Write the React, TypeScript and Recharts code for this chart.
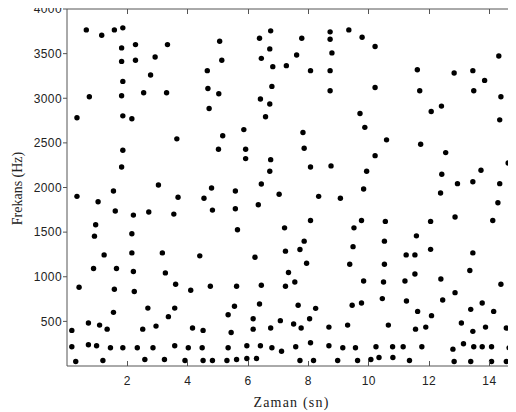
import React from 'react';
import { ScatterChart, Scatter, XAxis, YAxis, ReferenceLine } from 'recharts';

// Zaman (sn) değerleri
const zaman = [
  0.64, 1.15, 1.57, 1.85, 1.81, 2.27, 3.33, 1.81, 2.27, 2.92, 2.77, 4.65, 1.85, 0.74, 1.81, 2.54, 3.30, 4.67, 0.33, 1.85,
  2.15, 4.71, 5.06, 5.13, 5.03, 6.38, 6.75, 6.72, 6.44, 6.82, 7.27, 7.61, 7.78, 8.07, 6.79, 6.41, 6.72, 6.58, 5.86, 8.72,
  8.72, 9.34, 8.78, 8.72, 8.72, 9.71, 9.78, 10.21, 10.21, 9.87, 11.61, 11.69, 12.07, 12.41, 12.83, 13.45, 13.84, 13.48, 14.31, 14.78,
  14.82, 14.38, 14.34, 0.33, 1.03, 0.95, 0.91, 1.85, 1.81, 1.54, 1.60, 2.20, 2.15, 2.71, 3.03, 3.64, 3.68, 3.54, 4.54, 5.16,
  5.02, 5.92, 5.92, 6.75, 6.72, 6.44, 4.79, 5.58, 7.03, 6.34, 4.82, 5.58, 5.65, 7.21, 7.82, 7.86, 8.07, 8.75, 8.34, 9.06,
  8.07, 7.86, 7.72, 7.24, 9.51, 9.48, 10.59, 10.21, 9.93, 9.83, 9.76, 10.55, 10.52, 11.72, 12.55, 12.42, 12.94, 13.45, 13.72, 12.38,
  12.05, 11.58, 12.05, 12.86, 14.11, 14.28, 14.34, 14.62, 14.84, 14.86, 14.82, 14.78, 0.16, 0.16, 0.29, 0.40, 0.71, 0.71, 0.88, 1.08,
  0.98, 1.19, 1.23, 1.33, 1.44, 1.54, 1.57, 1.64, 1.85, 2.15, 2.20, 2.23, 2.33, 2.51, 2.58, 2.68, 2.85, 2.95, 3.16, 3.26,
  3.23, 3.36, 3.57, 3.60, 3.57, 3.91, 4.02, 4.10, 4.16, 4.40, 4.48, 4.51, 4.51, 4.75, 4.82, 5.30, 5.62, 5.96, 6.28, 5.34,
  5.96, 6.41, 6.79, 7.11, 7.58, 8.07, 7.72, 8.17, 8.68, 8.97, 9.14, 9.56, 9.63, 5.34, 5.44, 5.55, 5.62, 6.23, 6.44, 6.38,
  6.17, 6.17, 6.75, 7.07, 7.34, 7.24, 7.55, 7.94, 7.66, 8.24, 7.51, 7.76, 8.04, 8.68, 9.30, 9.45, 9.37, 9.76, 9.83, 10.07,
  10.34, 10.24, 10.65, 10.45, 10.49, 10.52, 10.79, 10.80, 11.14, 11.24, 11.53, 11.20, 11.53, 11.25, 11.62, 11.55, 11.35, 11.76, 11.89, 12.08,
  12.39, 12.45, 12.86, 13.07, 12.79, 12.83, 13.14, 13.38, 13.48, 13.45, 13.38, 13.35, 13.45, 13.76, 13.76, 13.87, 14.07, 14.07, 14.14, 14.38,
  14.56, 14.56, 14.65, 14.76, 14.82,
];

// Frekans (Hz) değerleri
const frekans = [
  3766, 3706, 3766, 3789, 3564, 3601, 3601, 3413, 3425, 3463, 3261, 3309, 3189, 3017, 3028, 3062, 3062, 3110, 2781, 2803,
  2770, 2885, 3638, 3425, 3051, 3672, 3755, 3553, 3447, 3354, 3365, 3485, 3672, 3309, 3133, 2991, 2935, 2792, 2649, 3744,
  3661, 3766, 3508, 3309, 3084, 2829, 3683, 3579, 3121, 2674, 3320, 3084, 2852, 2912, 3283, 3309, 3200, 3084, 3474, 3474,
  3672, 3017, 2758, 1901, 1840, 1582, 1455, 2418, 2230, 1961, 1736, 1691, 1481, 1725, 2028, 2545, 1890, 1702, 1879, 2579,
  2429, 2429, 2324, 2312, 2182, 2039, 1994, 1961, 1924, 1807, 1747, 1762, 1526, 1548, 2616, 2440, 2230, 2242, 1901, 1879,
  1631, 1399, 1306, 1287, 1548, 1337, 2534, 2357, 2182, 1983, 1631, 1620, 1399, 2485, 2391, 2148, 2043, 2065, 2193, 1938,
  1620, 1458, 1307, 1669, 1631, 1829, 2043, 2275, 2440, 2216, 1961, 1713, 399, 216, 51, 882, 481, 238, 1092, 458,
  227, 62, 1245, 413, 204, 601, 860, 1092, 204, 1267, 1058, 834, 204, 413, 73, 649, 204, 447, 1267, 1043,
  73, 553, 649, 916, 227, 62, 204, 848, 425, 1234, 204, 399, 62, 893, 62, 62, 73, 84, 84, 204,
  227, 227, 204, 166, 216, 261, 62, 62, 227, 62, 204, 204, 62, 575, 376, 669, 893, 1219, 904, 694,
  530, 413, 425, 508, 1047, 893, 942, 1152, 680, 646, 470, 425, 530, 436, 458, 680, 1140, 706, 953, 73,
  96, 216, 458, 755, 942, 1140, 216, 96, 216, 1245, 1245, 953, 1031, 728, 612, 413, 62, 216, 436, 564,
  975, 739, 822, 481, 189, 51, 249, 51, 216, 388, 635, 1070, 1267, 216, 706, 436, 216, 51, 612, 916,
  425, 51, 204, 987, 762,
];

const xTicks = [2, 4, 6, 8, 10, 12, 14];
const yTicks = [500, 1000, 1500, 2000, 2500, 3000, 3500, 4000];

const data = zaman.map((x, i) => ({ x, y: frekans[i] }));

const AXIS = '#555';
const TEXT = '#222';
const PLOT_TOP = 9;
const TICK_FONT = 'Liberation Sans';

function ZamanTick({ x, y, payload }: any) {
  return (
    <g>
      <line x1={x} x2={x} y1={y} y2={y - 5} stroke={AXIS} shapeRendering="crispEdges" />
      <line x1={x} x2={x} y1={PLOT_TOP} y2={PLOT_TOP + 5} stroke={AXIS} shapeRendering="crispEdges" />
      <text x={x} y={y + 19} textAnchor="middle" fontFamily={TICK_FONT} fontSize={12} letterSpacing={0.4} fill={TEXT}>
        {payload.value}
      </text>
    </g>
  );
}

const Dot = (props: any) => <circle cx={props.cx} cy={props.cy} r={2.7} fill="#000" />;

export default function App() {
  return (
    <div style={{ marginLeft: -8, marginTop: -8, width: 516, height: 412, background: '#fff' }}>
      <ScatterChart width={516} height={412} margin={{ top: PLOT_TOP, right: 0, bottom: 0, left: 0 }}>
        <XAxis
          type="number"
          dataKey="x"
          domain={[0, 14.88]}
          ticks={xTicks}
          height={46}
          tickLine={false}
          tickSize={0}
          tickMargin={0}
          tick={<ZamanTick />}
          axisLine={{ stroke: AXIS }}
          label={{
            content: ({ viewBox }: any) => (
              <text
                x={viewBox.x + viewBox.width / 2}
                y={407}
                textAnchor="middle"
                fontFamily="Liberation Serif"
                fontSize={14}
                letterSpacing={1.2}
                fill={TEXT}
              >
                Zaman (sn)
              </text>
            ),
          }}
        />
        <YAxis
          type="number"
          dataKey="y"
          domain={[0, 4000]}
          ticks={yTicks}
          width={67}
          tickSize={4}
          tickMargin={1}
          tickLine={{ stroke: AXIS }}
          axisLine={{ stroke: AXIS }}
          tick={{ fontFamily: TICK_FONT, fontSize: 12, letterSpacing: 0.4, fill: TEXT }}
          label={{
            content: ({ viewBox }: any) => {
              const cy = viewBox.y + viewBox.height / 2 + 1;
              return (
                <text
                  x={22}
                  y={cy}
                  transform={`rotate(-90, 22, ${cy})`}
                  textAnchor="middle"
                  fontFamily="Liberation Serif"
                  fontSize={14}
                  fill={TEXT}
                >
                  Frekans (Hz)
                </text>
              );
            },
          }}
        />
        <ReferenceLine y={4000} stroke={AXIS} ifOverflow="visible" />
        <Scatter data={data} shape={<Dot />} isAnimationActive={false} />
      </ScatterChart>
    </div>
  );
}
